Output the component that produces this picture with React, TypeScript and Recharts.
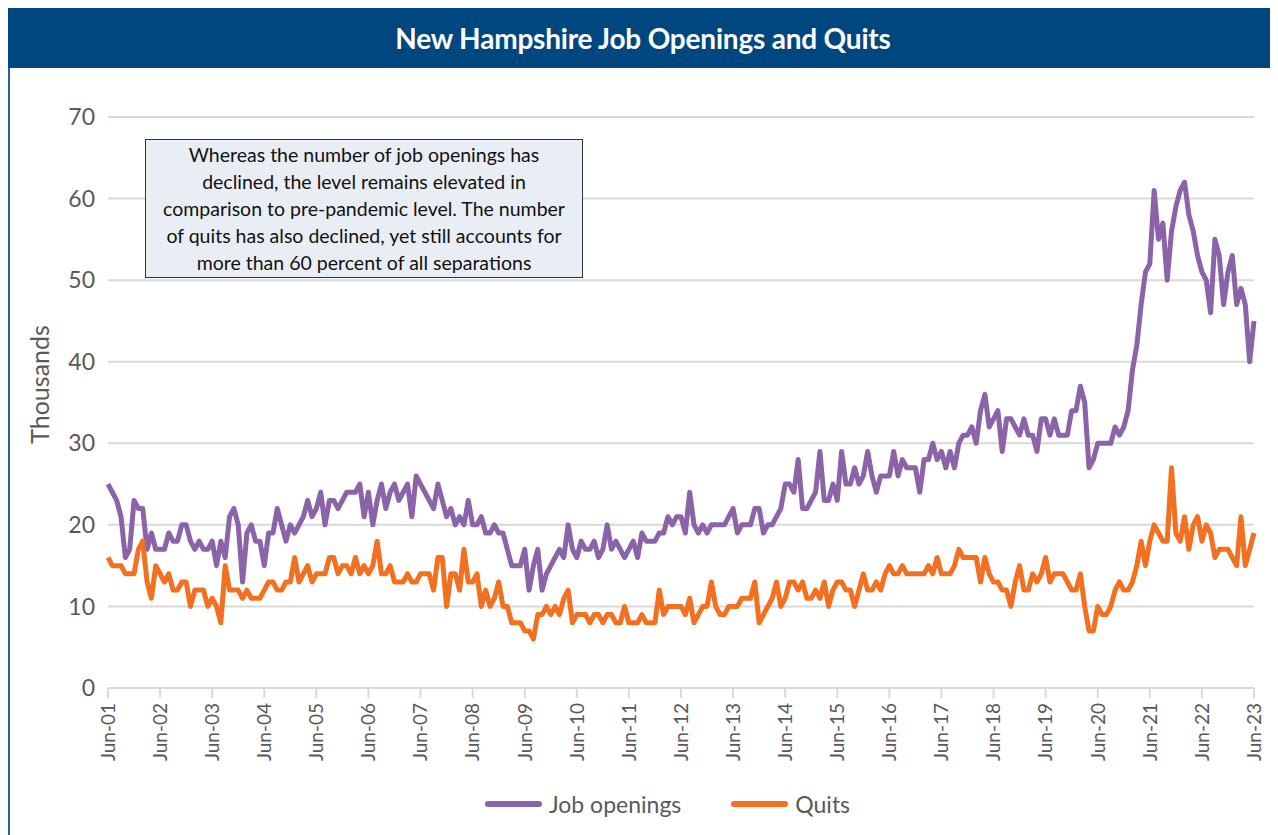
import React from 'react';
import { LineChart, Line, XAxis, YAxis, CartesianGrid, Legend } from 'recharts';

// Monthly values, Jun-01 .. Jun-23 (thousands)
const jobOpenings: number[] = [
  25, 24, 23, 21, 16, 17, 23, 22, 22, 17, 19, 17, // Jun-01 .. May-02
  17, 17, 19, 18, 18, 20, 20, 18, 17, 18, 17, 17, // Jun-02 ..
  18, 15, 18, 16, 21, 22, 20, 13, 19, 20, 18, 18, // Jun-03 ..
  15, 19, 19, 22, 20, 18, 20, 19, 20, 21, 23, 21, // Jun-04 ..
  22, 24, 20, 23, 23, 22, 23, 24, 24, 24, 25, 21, // Jun-05 ..
  24, 20, 23, 25, 22, 24, 25, 23, 24, 25, 21, 26, // Jun-06 ..
  25, 24, 23, 22, 25, 23, 21, 22, 20, 21, 20, 23, // Jun-07 ..
  20, 20, 21, 19, 19, 20, 19, 19, 17, 15, 15, 15, // Jun-08 ..
  17, 12, 15, 17, 12, 14, 15, 16, 17, 16, 20, 17, // Jun-09 ..
  16, 18, 17, 17, 18, 16, 17, 20, 17, 18, 17, 16, // Jun-10 ..
  17, 18, 16, 19, 18, 18, 18, 19, 19, 21, 20, 21, // Jun-11 ..
  21, 19, 24, 20, 19, 20, 19, 20, 20, 20, 20, 21, // Jun-12 ..
  22, 19, 20, 20, 20, 22, 22, 19, 20, 20, 21, 22, // Jun-13 ..
  25, 25, 24, 28, 22, 22, 23, 24, 29, 23, 23, 25, // Jun-14 ..
  23, 29, 25, 25, 27, 25, 26, 29, 26, 24, 26, 26, // Jun-15 ..
  26, 29, 26, 28, 27, 27, 27, 24, 28, 28, 30, 28, // Jun-16 ..
  29, 27, 29, 27, 30, 31, 31, 32, 30, 34, 36, 32, // Jun-17 ..
  33, 34, 29, 33, 33, 32, 31, 33, 31, 31, 29, 33, // Jun-18 ..
  33, 31, 33, 31, 31, 31, 34, 34, 37, 35, 27, 28, // Jun-19 ..
  30, 30, 30, 30, 32, 31, 32, 34, 39, 42, 47, 51, // Jun-20 ..
  52, 61, 55, 57, 50, 56, 59, 61, 62, 58, 56, 53, // Jun-21 ..
  51, 50, 46, 55, 53, 47, 51, 53, 47, 49, 47, 40, // Jun-22 ..
  45, // Jun-23
];

const quits: number[] = [
  16, 15, 15, 15, 14, 14, 14, 17, 18, 13, 11, 15, // Jun-01 ..
  14, 13, 14, 12, 12, 13, 13, 10, 12, 12, 12, 10, // Jun-02 ..
  11, 10, 8, 15, 12, 12, 12, 11, 12, 11, 11, 11, // Jun-03 ..
  12, 13, 13, 12, 12, 13, 13, 16, 13, 14, 15, 13, // Jun-04 ..
  14, 14, 14, 16, 16, 14, 15, 15, 14, 16, 14, 15, // Jun-05 ..
  14, 15, 18, 14, 14, 15, 13, 13, 13, 14, 13, 13, // Jun-06 ..
  14, 14, 14, 12, 16, 16, 10, 14, 14, 12, 17, 13, // Jun-07 ..
  13, 14, 10, 12, 10, 11, 13, 10, 10, 8, 8, 8, // Jun-08 ..
  7, 7, 6, 9, 9, 10, 9, 10, 9, 11, 12, 8, // Jun-09 ..
  9, 9, 9, 8, 9, 9, 8, 9, 9, 8, 8, 10, // Jun-10 ..
  8, 8, 8, 9, 8, 8, 8, 12, 9, 10, 10, 10, // Jun-11 ..
  10, 9, 11, 8, 9, 10, 10, 13, 10, 9, 9, 10, // Jun-12 ..
  10, 10, 11, 11, 11, 13, 8, 9, 10, 11, 13, 10, // Jun-13 ..
  11, 13, 13, 12, 13, 11, 11, 12, 11, 13, 10, 12, // Jun-14 ..
  13, 13, 12, 12, 10, 12, 14, 12, 12, 13, 12, 14, // Jun-15 ..
  15, 14, 14, 15, 14, 14, 14, 14, 14, 15, 14, 16, // Jun-16 ..
  14, 14, 14, 15, 17, 16, 16, 16, 16, 13, 16, 14, // Jun-17 ..
  13, 13, 12, 12, 10, 13, 15, 12, 12, 14, 13, 14, // Jun-18 ..
  16, 13, 14, 14, 14, 13, 12, 12, 14, 10, 7, 7, // Jun-19 ..
  10, 9, 9, 10, 12, 13, 12, 12, 13, 15, 18, 15, // Jun-20 ..
  18, 20, 19, 18, 18, 27, 19, 18, 21, 17, 20, 21, // Jun-21 ..
  18, 20, 19, 16, 17, 17, 17, 16, 15, 21, 15, 17, // Jun-22 ..
  19, // Jun-23
];

const monthNames = ['Jun', 'Jul', 'Aug', 'Sep', 'Oct', 'Nov', 'Dec', 'Jan', 'Feb', 'Mar', 'Apr', 'May'];
const yTicks = [0, 10, 20, 30, 40, 50, 60, 70];
const seriesNames = ['Job openings', 'Quits'];
const seriesColors = ['#8B63A9', '#F37021'];
const chartTitle = 'New Hampshire Job Openings and Quits';
const yAxisTitle = 'Thousands';
const noteLines = [
  'Whereas the number of job openings has',
  'declined, the level remains elevated in',
  'comparison to pre-pandemic level. The number',
  'of quits has also declined, yet still accounts for',
  'more than 60 percent of all separations',
];

const monthLabels = jobOpenings.map((_, i) => {
  const yr = 1 + Math.floor((i + 5) / 12);
  return `${monthNames[i % 12]}-${String(yr).padStart(2, '0')}`;
});

const data = monthLabels.map((m, i) => ({
  month: m,
  jobs: jobOpenings[i],
  quits: quits[i],
}));

const FONT = 'Lato, "Open Sans", sans-serif';
const AXIS_GREY = '#595959';
const GRID = '#D9D9D9';

const XTick = (props: any) => {
  const { x, y, payload } = props;
  return (
    <text
      x={x}
      y={y}
      transform={`rotate(-90 ${x} ${y})`}
      textAnchor="end"
      dy="0.36em"
      fill={AXIS_GREY}
      fontSize={19}
      fontFamily={FONT}
    >
      {payload.value}
    </text>
  );
};

const YTitle = (props: any) => {
  const vb = props.viewBox || { x: 0, y: 109, width: 100, height: 571 };
  const cx = vb.x + 32;
  const cy = vb.y + vb.height / 2 - 18;
  return (
    <text
      x={cx}
      y={cy}
      transform={`rotate(-90 ${cx} ${cy})`}
      textAnchor="middle"
      dy="0.36em"
      fill={AXIS_GREY}
      fontSize={25}
      fontFamily={FONT}
    >
      {yAxisTitle}
    </text>
  );
};

const LegendContent = () => (
  <div style={{ display: 'flex', alignItems: 'center', fontFamily: FONT, fontSize: 23, color: AXIS_GREY, height: 32 }}>
    {seriesNames.map((name, i) => (
      <div key={name} style={{ display: 'flex', alignItems: 'center', marginRight: i === 0 ? 50 : 0 }}>
        <div style={{ width: 57, height: 6, borderRadius: 3, background: seriesColors[i], marginRight: 7 }} />
        <span>{name}</span>
      </div>
    ))}
  </div>
);

export default function App() {
  return (
    <div style={{ position: 'relative', width: 1270, height: 827, background: '#fff' }}>
      <style>{'html,body{overflow:hidden}'}</style>
      <div
        style={{
          position: 'absolute',
          left: 0,
          top: 0,
          width: 1270,
          height: 60,
          background: '#01477F',
          color: '#fff',
          fontFamily: FONT,
          fontWeight: 700,
          fontSize: 28,
          lineHeight: '60px',
          textAlign: 'center',
          letterSpacing: -0.2,
        }}
      >
        {chartTitle}
      </div>
      <div style={{ position: 'absolute', left: 0, top: 60, width: 1.5, height: 767, background: '#2B5FA5' }} />
      <div style={{ position: 'absolute', left: 0, top: 0 }}>
        <LineChart width={1270} height={827} data={data} margin={{ top: 109, right: 24, bottom: 57, left: 0 }}>
          <CartesianGrid horizontal vertical={false} stroke={GRID} strokeWidth={2} />
          <XAxis
            dataKey="month"
            interval={11}
            height={90}
            axisLine={{ stroke: GRID, strokeWidth: 2 }}
            tickLine={{ stroke: GRID, strokeWidth: 2 }}
            tickSize={10}
            tickMargin={5}
            tick={<XTick />}
          />
          <YAxis
            domain={[0, 70]}
            ticks={yTicks}
            width={100}
            axisLine={false}
            tickLine={false}
            tickSize={6}
            tickMargin={7}
            tick={{ fill: AXIS_GREY, fontSize: 23, fontFamily: FONT }}
            label={<YTitle />}
          />
          <Line type="linear" dataKey="jobs" name={seriesNames[0]} stroke={seriesColors[0]} strokeWidth={5} dot={false} isAnimationActive={false} strokeLinejoin="round" />
          <Line type="linear" dataKey="quits" name={seriesNames[1]} stroke={seriesColors[1]} strokeWidth={5} dot={false} isAnimationActive={false} strokeLinejoin="round" />
          <Legend
            layout="horizontal"
            verticalAlign="middle"
            align="center"
            content={<LegendContent />}
            wrapperStyle={{ top: 780, left: 477, width: 420, height: 32 }}
          />
        </LineChart>
      </div>
      <div
        style={{
          position: 'absolute',
          left: 137,
          top: 131,
          width: 438,
          height: 139,
          boxSizing: 'border-box',
          border: '1.5px solid #333',
          background: '#E9EEF5',
          fontFamily: FONT,
          fontSize: 19.5,
          lineHeight: '27px',
          color: '#111',
          textAlign: 'center',
          paddingTop: 1,
        }}
      >
        {noteLines.map((l) => (
          <div key={l}>{l}</div>
        ))}
      </div>
    </div>
  );
}
